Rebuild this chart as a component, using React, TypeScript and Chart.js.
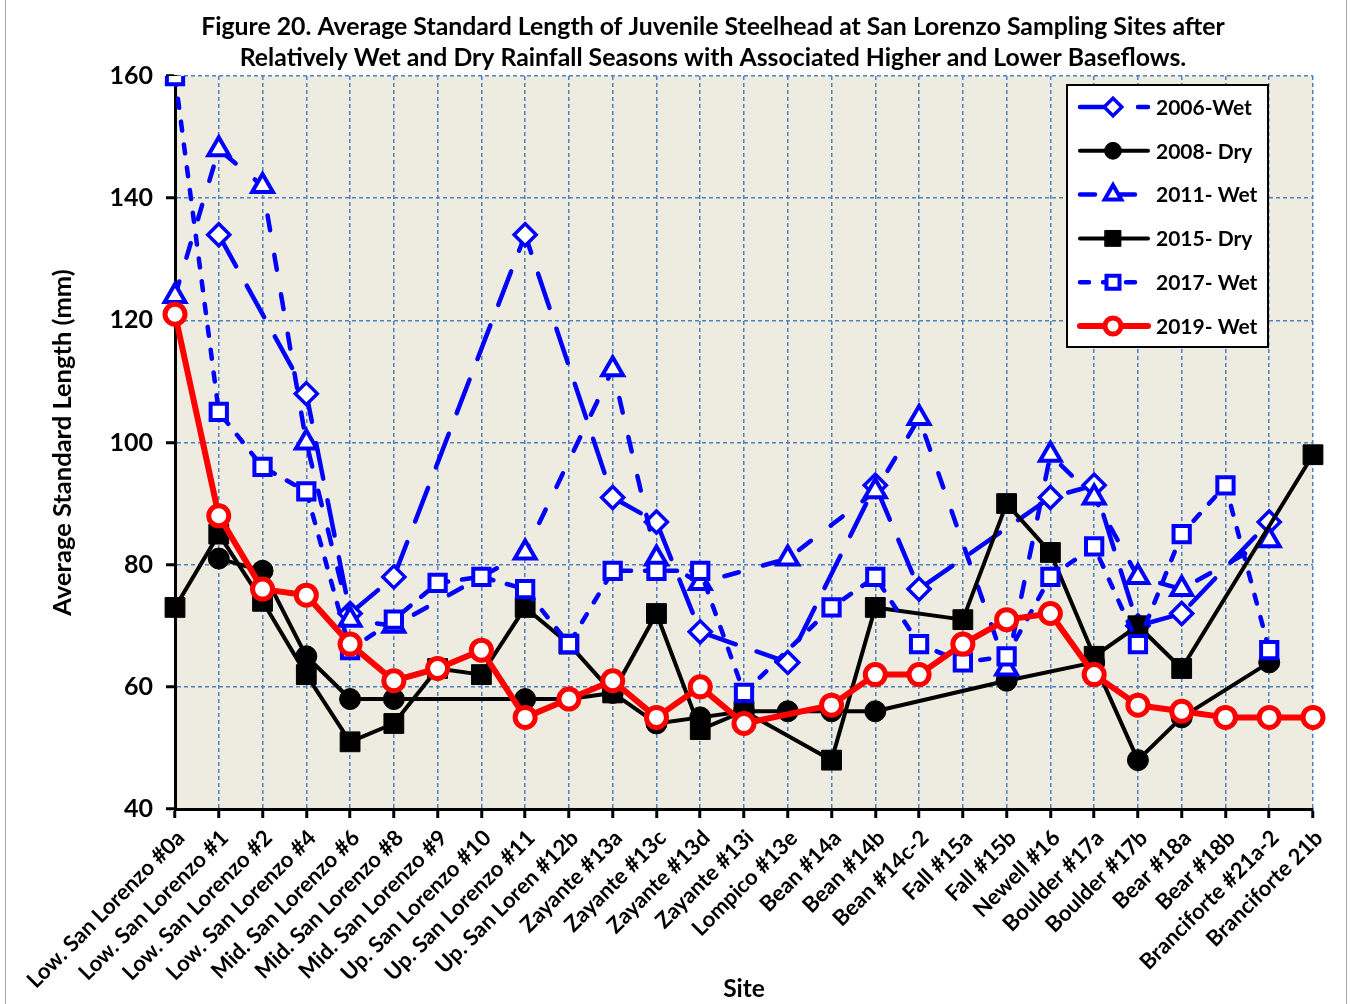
import { useEffect, useRef } from "react";
import { Chart, registerables } from "chart.js";

Chart.register(...registerables);

const sites = [
  "Low. San Lorenzo #0a",
  "Low. San Lorenzo #1",
  "Low. San Lorenzo #2",
  "Low. San Lorenzo #4",
  "Mid. San Lorenzo #6",
  "Mid. San Lorenzo #8",
  "Mid. San Lorenzo #9",
  "Up. San Lorenzo #10",
  "Up. San Lorenzo #11",
  "Up. San Loren #12b",
  "Zayante #13a",
  "Zayante #13c",
  "Zayante #13d",
  "Zayante #13i",
  "Lompico #13e",
  "Bean #14a",
  "Bean #14b",
  "Bean #14c-2",
  "Fall #15a",
  "Fall #15b",
  "Newell #16",
  "Boulder #17a",
  "Boulder #17b",
  "Bear #18a",
  "Bear #18b",
  "Branciforte #21a-2",
  "Branciforte 21b",
];

const wet2006 = [null, 134, null, 108, 72, 78, null, null, 134, null, 91, 87, 69, null, 64, null, 93, 76, null, null, 91, 93, 70, 72, null, 87, null];
const dry2008 = [null, 81, 79, 65, 58, 58, null, null, 58, 58, 59, 54, 55, 56, 56, 56, 56, null, null, 61, null, 64, 48, 55, null, 64, null];
const wet2011 = [124, 148, 142, 100, 71, 70, null, null, 82, null, 112, 81, 77, null, 81, null, 92, 104, null, 63, 98, 91, 78, 76, null, 84, null];
const dry2015 = [73, 85, 74, 62, 51, 54, 63, 62, 73, 67, 59, 72, 53, 56, null, 48, 73, null, 71, 90, 82, 65, 70, 63, null, null, 98];
const wet2017 = [160, 105, 96, 92, 66, 71, 77, 78, 76, 67, 79, 79, 79, 59, null, 73, 78, 67, 64, 65, 78, 83, 67, 85, 93, 66, null];
const wet2019 = [121, 88, 76, 75, 67, 61, 63, 66, 55, 58, 61, 55, 60, 54, null, 57, 62, 62, 67, 71, 72, 62, 57, 56, 55, 55, 55];

const yTicks = [40, 60, 80, 100, 120, 140, 160];

const titleLines = [
  "Figure 20. Average Standard Length of Juvenile Steelhead at San Lorenzo Sampling Sites after",
  "Relatively Wet and Dry Rainfall Seasons with Associated Higher and Lower Baseflows.",
];

const FONT = "Lato, 'Noto Sans', 'DejaVu Sans', sans-serif";
const BLUE = "#0000FF";
const GRID = "#4F81BD";

function drawMarker(ctx: CanvasRenderingContext2D, style: string, x: number, y: number, r: number) {
  ctx.beginPath();
  if (style === "circle") {
    ctx.arc(x, y, r, 0, Math.PI * 2);
  } else if (style === "rect") {
    const s = Math.SQRT1_2 * r;
    ctx.rect(x - s, y - s, 2 * s, 2 * s);
  } else if (style === "rectRot") {
    ctx.moveTo(x, y - r);
    ctx.lineTo(x + r, y);
    ctx.lineTo(x, y + r);
    ctx.lineTo(x - r, y);
    ctx.closePath();
  } else if (style === "triangle") {
    let a = 0;
    ctx.moveTo(x + Math.sin(a) * r, y - Math.cos(a) * r);
    a += (2 * Math.PI) / 3;
    ctx.lineTo(x + Math.sin(a) * r, y - Math.cos(a) * r);
    a += (2 * Math.PI) / 3;
    ctx.lineTo(x + Math.sin(a) * r, y - Math.cos(a) * r);
    ctx.closePath();
  }
}

const backgroundPlugin = {
  id: "plotBackground",
  beforeDraw(chart: any) {
    const { ctx, chartArea } = chart;
    ctx.save();
    ctx.fillStyle = "#FFFFFF";
    ctx.fillRect(0, 0, chart.width, chart.height);
    ctx.fillStyle = "#EEECE1";
    ctx.fillRect(chartArea.left, chartArea.top, chartArea.right - chartArea.left, chartArea.bottom - chartArea.top);
    ctx.restore();
  },
  afterDraw(chart: any) {
    const { ctx } = chart;
    ctx.save();
    // frame
    ctx.strokeStyle = "#A6A6A6";
    ctx.lineWidth = 1;
    ctx.beginPath();
    ctx.moveTo(5.5, 0);
    ctx.lineTo(5.5, chart.height);
    ctx.moveTo(1346.5, 0);
    ctx.lineTo(1346.5, chart.height);
    ctx.stroke();
    // title
    ctx.fillStyle = "#000";
    ctx.font = `bold 24.8px ${FONT}`;
    ctx.textAlign = "center";
    ctx.textBaseline = "middle";
    ctx.fillText(titleLines[0], 713, 27);
    ctx.fillText(titleLines[1], 713, 58);

    // legend
    const bx = 1067, by = 85, bw = 201, bh = 262;
    ctx.fillStyle = "#FFFFFF";
    ctx.fillRect(bx, by, bw, bh);
    ctx.strokeStyle = "#000";
    ctx.lineWidth = 2;
    ctx.strokeRect(bx, by, bw, bh);
    chart.data.datasets.forEach((ds: any, i: number) => {
      const y = 107 + i * 43.8;
      ctx.save();
      ctx.strokeStyle = ds.borderColor;
      ctx.lineWidth = ds.borderWidth;
      ctx.lineCap = "round";
      ctx.setLineDash(ds.borderDash || []);
      ctx.beginPath();
      ctx.moveTo(1080, y);
      ctx.lineTo(1148, y);
      ctx.stroke();
      ctx.setLineDash([]);
      drawMarker(ctx, ds.pointStyle, 1113, y, ds.pointRadius * 0.8);
      ctx.fillStyle = ds.pointBackgroundColor;
      ctx.fill();
      ctx.lineWidth = ds.pointBorderWidth;
      ctx.strokeStyle = ds.pointBorderColor;
      ctx.stroke();
      ctx.restore();
      ctx.fillStyle = "#000";
      ctx.font = `bold 21px ${FONT}`;
      ctx.textAlign = "left";
      ctx.textBaseline = "middle";
      ctx.fillText(ds.label, 1156, y + 1);
    });
    ctx.restore();
  },
};

export default function App() {
  const ref = useRef<HTMLCanvasElement>(null);

  useEffect(() => {
    const canvas = ref.current;
    if (!canvas) return;
    const common = { tension: 0, spanGaps: true, fill: false, borderCapStyle: "round", borderJoinStyle: "round" };
    const chart = new Chart(canvas, {
      type: "line",
      data: {
        labels: sites,
        datasets: [
          {
            ...common,
            label: "2006-Wet",
            data: wet2006,
            borderColor: BLUE,
            borderWidth: 4.5,
            borderDash: [36, 22],
            pointStyle: "rectRot",
            pointRadius: 11,
            pointBorderWidth: 3.5,
            pointBackgroundColor: "#FFFFFF",
            pointBorderColor: BLUE,
            order: 6,
          },
          {
            ...common,
            label: "2008- Dry",
            data: dry2008,
            borderColor: "#000000",
            borderWidth: 4,
            pointStyle: "circle",
            pointRadius: 10.5,
            pointBorderWidth: 1,
            pointBackgroundColor: "#000000",
            pointBorderColor: "#000000",
            order: 5,
          },
          {
            ...common,
            label: "2011- Wet",
            data: wet2011,
            borderColor: BLUE,
            borderWidth: 4.5,
            borderDash: [15, 25],
            pointStyle: "triangle",
            pointRadius: 12,
            pointBorderWidth: 4,
            pointBackgroundColor: "#FFFFFF",
            pointBorderColor: BLUE,
            order: 4,
          },
          {
            ...common,
            label: "2015- Dry",
            data: dry2015,
            borderColor: "#000000",
            borderWidth: 4,
            pointStyle: "rect",
            pointRadius: 14,
            pointBorderWidth: 1,
            pointBackgroundColor: "#000000",
            pointBorderColor: "#000000",
            order: 3,
          },
          {
            ...common,
            label: "2017- Wet",
            data: wet2017,
            borderColor: BLUE,
            borderWidth: 4.5,
            borderDash: [9, 14],
            pointStyle: "rect",
            pointRadius: 11.5,
            pointBorderWidth: 4,
            pointBackgroundColor: "#FFFFFF",
            pointBorderColor: BLUE,
            order: 2,
          },
          {
            ...common,
            label: "2019- Wet",
            data: wet2019,
            borderColor: "#FF0000",
            borderWidth: 6,
            pointStyle: "circle",
            pointRadius: 10,
            pointBorderWidth: 5,
            pointBackgroundColor: "#FFFFFF",
            pointBorderColor: "#FF0000",
            order: 1,
          },
        ] as any,
      },
      options: {
        responsive: false,
        animation: false,
        devicePixelRatio: 1,
        events: [],
        layout: { padding: { left: 0, right: 41, top: 76, bottom: 0 } },
        plugins: {
          legend: { display: false },
          tooltip: { enabled: false },
          title: { display: false },
        },
        scales: {
          x: {
            type: "category",
            offset: false,
            grid: {
              color: GRID,
              lineWidth: 1.5,
              offset: false,
              drawTicks: true,
              tickColor: "#000",
              tickWidth: 3,
              tickLength: 9,
              tickBorderDash: [],
            },
            border: { display: true, color: "#000", width: 3, dash: [4, 3] },
            ticks: {
              autoSkip: false,
              maxRotation: 45,
              minRotation: 45,
              color: "#000",
              padding: 7,
              labelOffset: 6,
              font: { family: FONT, size: 22, weight: "bold" },
            },
            title: {
              display: true,
              text: "Site",
              color: "#000",
              font: { family: FONT, size: 24.5, weight: "bold" },
              padding: { top: 0, bottom: 0 },
            },
            afterFit: (s: any) => {
              s.height = 195;
            },
          },
          y: {
            min: 40,
            max: 160,
            afterBuildTicks: (s: any) => {
              s.ticks = yTicks.map((v) => ({ value: v }));
            },
            grid: {
              color: GRID,
              lineWidth: 1.5,
              drawTicks: true,
              tickColor: "#000",
              tickWidth: 3,
              tickLength: 9,
              tickBorderDash: [],
            },
            border: { display: true, color: "#000", width: 3, dash: [4, 3] },
            ticks: {
              color: "#000",
              padding: 13,
              font: { family: FONT, size: 25, weight: "bold" },
            },
            title: {
              display: true,
              text: "Average Standard Length (mm)",
              color: "#000",
              font: { family: FONT, size: 25.5, weight: "bold" },
              padding: { top: 47, bottom: 0 },
            },
            afterFit: (s: any) => {
              s.width = 175;
            },
          },
        },
      } as any,
      plugins: [backgroundPlugin],
    });
    return () => chart.destroy();
  }, []);

  return (
    <div style={{ position: "absolute", left: 0, top: 0, width: 1354, height: 1004, background: "#fff" }}>
      <canvas ref={ref} width={1354} height={1004} style={{ display: "block", width: 1354, height: 1004 }} />
    </div>
  );
}
